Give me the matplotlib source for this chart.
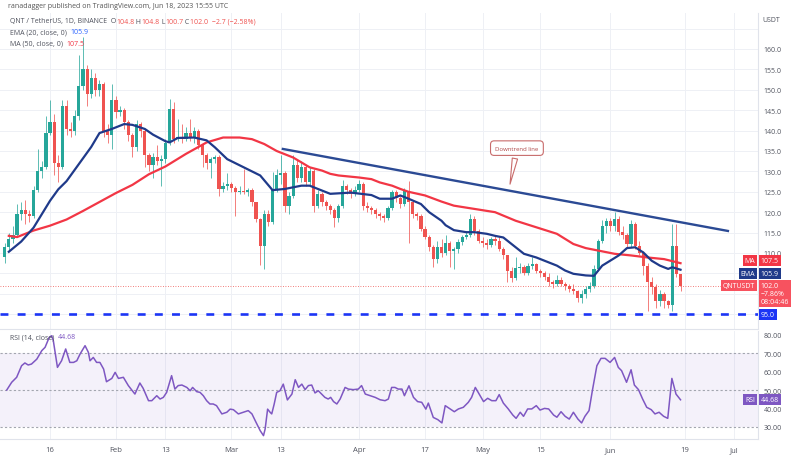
import matplotlib
matplotlib.use('Agg')
import numpy as np
import matplotlib.pyplot as plt

plt.rcParams['font.family'] = ['Open Sans', 'DejaVu Sans']

# daily candles, Jan 5 .. Jun 18 2023 (index 0 = Jan 5), open = previous close
first_open = 109.0
closes = [111.5, 113.5, 114.5, 119.5, 120.5, 119.5, 119.0, 125.5, 130.0, 131.0,
          139.5, 142.0, 132.0, 131.0, 146.0, 140.5, 140.0, 143.5, 151.0, 155.0,
          149.0, 153.0, 150.0, 151.5, 140.0, 139.0, 147.5, 144.5, 145.0, 142.0,
          139.0, 136.0, 141.5, 140.0, 134.0, 131.5, 133.5, 132.5, 133.0, 137.0,
          145.3, 138.0, 138.5, 138.0, 139.5, 138.5, 140.0, 136.5, 134.0, 132.0,
          133.0, 133.5, 125.7, 126.5, 127.0, 126.0, 125.0, 125.3, 125.0, 125.5,
          122.5, 118.3, 111.8, 119.6, 117.5, 125.7, 129.0, 129.5, 121.6, 124.0,
          131.5, 128.5, 131.0, 127.5, 130.0, 121.5, 124.5, 122.5, 121.5, 120.5,
          118.5, 121.5, 126.5, 125.5, 124.5, 125.5, 126.8, 121.6, 121.0, 120.5,
          119.5, 119.0, 118.5, 121.0, 124.9, 123.5, 122.0, 125.3, 122.5, 119.5,
          119.0, 116.0, 114.0, 111.5, 108.5, 111.5, 110.0, 112.5, 110.5, 111.0,
          112.6, 114.0, 114.5, 118.3, 115.5, 113.0, 112.5, 112.0, 113.5, 113.0,
          111.0, 109.5, 105.5, 103.8, 106.3, 106.5, 105.0, 106.8, 107.2, 105.5,
          105.0, 104.0, 102.8, 102.5, 103.5, 102.5, 101.8, 101.2, 100.8, 99.0,
          100.0, 101.2, 102.0, 106.0, 113.0, 116.7, 117.9, 116.5, 118.3, 115.2,
          114.5, 112.2, 117.1, 111.8, 110.1, 106.9, 102.8, 101.6, 98.3, 100.0,
          98.3, 97.2, 111.8, 104.8, 102.0]
highs = [112.5, 115.0, 116.5, 122.0, 122.5, 123.0, 120.5, 126.5, 135.5, 132.5,
         143.5, 147.5, 144.0, 134.0, 147.5, 147.5, 142.0, 145.0, 158.5, 163.0,
         156.0, 155.0, 154.0, 152.5, 152.0, 141.5, 151.5, 148.5, 146.0, 145.5,
         142.5, 139.5, 142.5, 142.0, 140.5, 134.5, 134.5, 136.5, 134.0, 138.0,
         147.7, 147.0, 142.8, 141.5, 141.0, 142.8, 140.8, 140.5, 137.0, 134.5,
         133.5, 134.0, 134.0, 127.5, 129.5, 127.5, 126.5, 126.5, 130.5, 126.0,
         126.0, 122.5, 118.5, 120.5, 120.5, 129.8, 130.5, 134.0, 130.0, 125.0,
         134.0, 133.0, 132.5, 131.5, 131.0, 130.5, 125.5, 125.0, 123.0, 122.0,
         121.0, 122.0, 128.0, 127.0, 126.0, 126.5, 128.0, 127.5, 122.5, 121.5,
         121.0, 120.0, 119.5, 121.5, 125.5, 125.5, 124.0, 126.0, 127.7, 122.5,
         120.0, 119.5, 116.5, 114.5, 112.0, 113.0, 113.5, 114.5, 113.0, 111.5,
         113.5, 114.5, 115.5, 119.5, 119.0, 116.0, 114.0, 113.5, 114.0, 114.5,
         113.8, 111.5, 109.5, 106.5, 109.0, 107.5, 107.0, 107.5, 109.0, 107.5,
         106.0, 105.5, 105.0, 103.5, 104.5, 104.0, 103.0, 102.5, 102.5, 101.0,
         101.0, 102.0, 103.0, 107.0, 113.5, 118.0, 118.5, 118.5, 120.0, 119.0,
         116.5, 115.0, 118.0, 117.5, 113.0, 110.5, 107.5, 104.0, 102.5, 101.0,
         100.5, 98.5, 117.2, 117.0, 104.8]
lows = [107.5, 110.5, 112.5, 114.0, 118.0, 117.0, 117.5, 118.5, 125.0, 128.5,
        130.5, 139.0, 129.0, 127.5, 130.5, 139.0, 138.5, 139.0, 142.5, 150.0,
        146.0, 148.0, 148.5, 148.5, 138.5, 137.0, 135.5, 143.0, 143.5, 140.5,
        137.5, 133.5, 135.0, 138.5, 131.0, 130.0, 128.5, 131.5, 126.5, 132.0,
        136.5, 137.0, 137.5, 137.0, 137.5, 137.5, 137.0, 135.5, 131.0, 130.5,
        128.5, 132.0, 124.0, 125.0, 125.5, 125.0, 119.0, 124.5, 124.5, 124.0,
        121.5, 117.5, 107.0, 106.1, 116.5, 117.0, 125.0, 127.0, 120.0, 119.5,
        123.5, 127.5, 127.5, 126.5, 126.5, 120.0, 121.0, 121.5, 120.5, 119.5,
        116.3, 117.5, 121.0, 124.5, 123.5, 124.0, 125.0, 120.5, 120.0, 119.5,
        118.5, 118.0, 117.5, 118.0, 120.5, 122.5, 121.0, 121.5, 112.5, 118.5,
        118.0, 115.5, 113.5, 110.5, 106.5, 107.5, 109.0, 109.5, 106.5, 106.0,
        110.0, 112.0, 113.5, 114.0, 114.5, 112.5, 111.5, 111.0, 111.5, 112.0,
        110.5, 108.5, 102.8, 103.0, 103.5, 105.0, 104.5, 104.5, 106.0, 105.0,
        104.0, 103.5, 102.0, 101.5, 102.0, 101.8, 101.0, 100.5, 100.0, 98.0,
        97.8, 99.0, 100.5, 101.5, 105.5, 112.5, 115.0, 115.5, 115.5, 114.5,
        113.5, 111.5, 111.5, 111.0, 109.5, 104.5, 95.9, 100.0, 96.5, 97.0,
        96.5, 96.5, 95.9, 104.0, 100.7]

# EMA(20) and MA(50) at candle positions
ema_x = [1, 4, 7, 11, 13, 15, 18, 21, 23, 26, 29, 31, 34, 36, 39, 40, 42, 46,
         49, 51, 54, 58, 62, 65, 68, 72, 74, 77, 79, 84, 89, 91, 94, 96, 98, 101,
         103, 106, 107, 109, 112, 114, 117, 119, 121, 124, 126, 129, 131, 134,
         136, 138, 141, 143, 145, 149, 151, 153, 155, 157, 159, 161, 162, 164]
ema_y = [110.3, 112.8, 116.2, 122.8, 125.6, 127.6, 131.8, 136.0, 139.4, 140.4,
         141.6, 141.4, 140.4, 139.0, 137.4, 137.1, 138.2, 138.3, 137.6, 135.9,
         133.0, 131.0, 129.0, 125.4, 125.7, 126.5, 126.5, 125.3, 124.5, 124.8,
         124.2, 123.3, 123.3, 124.1, 123.3, 122.0, 120.0, 117.9, 116.8, 115.6,
         115.1, 115.1, 114.7, 114.2, 113.8, 111.4, 109.8, 108.9, 108.1, 106.9,
         105.7, 104.9, 104.5, 104.4, 106.9, 109.4, 111.2, 111.4, 110.1, 108.1,
         106.9, 106.1, 106.5, 105.9]
ma_x = [1, 3, 7, 11, 15, 19, 23, 27, 31, 35, 39, 44, 49, 53, 57, 60, 63, 66,
        70, 74, 77, 79, 81, 86, 89, 91, 94, 96, 98, 102, 106, 109, 114, 119,
        124, 129, 134, 138, 141, 144, 148, 152, 156, 160, 164]
ma_y = [114.2, 113.9, 115.5, 116.7, 118.2, 120.3, 122.5, 124.7, 126.7, 129.3,
        131.2, 134.3, 137.1, 138.3, 138.3, 137.9, 136.7, 135.0, 133.4, 131.0,
        130.2, 129.4, 129.0, 128.5, 128.1, 127.3, 126.5, 125.7, 125.0, 124.1,
        122.6, 121.6, 120.8, 120.0, 117.9, 116.3, 114.7, 112.2, 111.2, 110.6,
        109.8, 109.4, 108.9, 108.5, 107.5]

# RSI(14)
rsi_x = [0.5, 1.7, 2.9, 4.1, 4.9, 5.7, 6.5, 7.8, 9.0, 9.8, 10.8, 11.4, 11.8,
         12.8, 13.8, 14.8, 15.8, 16.7, 17.5, 18.3, 19.5, 20.3, 20.7, 21.5, 22.3,
         23.1, 24.0, 24.7, 26.0, 26.8, 27.6, 28.8, 30.0, 31.6, 32.8, 33.6, 34.9,
         35.7, 36.9, 37.7, 38.5, 39.3, 40.5, 41.3, 42.1, 43.0, 44.2, 45.0, 45.6,
         46.6, 47.4, 48.2, 49.0, 49.8, 50.6, 51.4, 52.7, 53.9, 54.7, 55.5, 56.7,
         57.9, 59.1, 60.0, 60.8, 62.0, 62.8, 63.2, 63.8, 64.4, 64.8, 65.4, 66.0,
         66.8, 67.6, 68.6, 69.7, 70.5, 71.3, 72.1, 72.9, 73.7, 74.5, 75.3, 76.1,
         76.9, 77.7, 78.5, 79.1, 79.8, 80.6, 81.4, 82.6, 83.4, 84.6, 85.8, 86.6,
         87.5, 88.7, 89.9, 91.1, 92.3, 93.1, 93.9, 94.7, 95.5, 96.4, 97.0, 98.1,
         99.2, 100.2, 101.2, 102.2, 102.8, 104.0, 105.1, 106.1, 106.9, 108.1,
         109.1, 110.1, 111.3, 112.5, 113.3, 114.2, 115.0, 116.2, 117.2, 118.2,
         119.2, 120.0, 121.0, 122.2, 123.3, 124.1, 125.1, 125.9, 126.9, 127.9,
         129.0, 129.9, 131.0, 132.0, 133.2, 134.0, 135.0, 136.0, 137.0, 138.0,
         139.1, 140.0, 140.8, 141.8, 142.6, 143.7, 144.7, 145.7, 146.9, 148.0,
         148.9, 149.7, 150.9, 152.0, 152.8, 153.8, 154.8, 155.8, 156.9, 157.8,
         158.8, 159.9, 160.9, 161.9, 162.9, 164.0]
rsi_y = [50.0, 54.2, 56.9, 63.2, 64.7, 63.6, 64.1, 66.8, 71.4, 73.2, 78.6, 79.5,
         76.8, 62.3, 65.9, 72.3, 65.0, 65.0, 65.9, 69.6, 74.1, 70.5, 65.9, 67.7,
         65.0, 65.0, 61.4, 54.5, 56.3, 59.6, 56.3, 56.9, 52.4, 47.8, 53.8, 50.9,
         44.2, 44.2, 46.9, 45.1, 46.0, 48.7, 57.8, 50.5, 52.4, 52.7, 51.4, 49.6,
         51.4, 49.1, 48.7, 46.9, 44.2, 42.4, 42.4, 41.5, 37.0, 37.9, 39.6, 39.3,
         37.0, 37.9, 38.8, 37.0, 33.3, 27.9, 25.2, 28.8, 39.6, 37.9, 37.0, 42.4,
         48.7, 49.6, 53.2, 44.6, 47.8, 55.6, 51.4, 53.2, 50.2, 52.4, 52.7, 48.4,
         49.6, 47.8, 46.0, 45.1, 46.0, 43.7, 42.4, 45.1, 51.4, 50.5, 50.2, 50.5,
         52.4, 47.8, 46.9, 46.0, 44.7, 44.2, 45.1, 51.4, 51.4, 50.5, 50.5, 46.9,
         52.3, 46.0, 43.7, 43.3, 39.6, 42.9, 35.1, 33.9, 32.1, 41.5, 39.7, 38.2,
         39.7, 40.6, 43.3, 46.0, 51.4, 48.3, 43.7, 45.5, 44.2, 44.2, 47.5, 42.9,
         39.7, 36.4, 34.6, 37.9, 35.7, 39.7, 39.7, 41.5, 39.1, 40.0, 39.7, 36.4,
         35.2, 38.2, 35.7, 34.2, 37.9, 34.2, 32.1, 35.7, 38.8, 49.6, 63.2, 67.2,
         67.2, 65.0, 67.7, 62.3, 60.5, 54.2, 61.0, 52.7, 50.2, 45.1, 40.6, 39.3,
         37.0, 37.9, 35.7, 34.6, 56.3, 47.8, 44.68]

trend_x = [67.5, 175.5]
trend_y = [135.5, 115.4]
support = 95.0

tick_pos = [11, 27, 39, 55, 67, 86, 102, 116, 130, 147, 165, 177]
tick_lab = ['16', 'Feb', '13', 'Mar', '13', 'Apr', '17', 'May', '15', 'Jun', '19', 'Jul']

UP, DN = '#26a69a', '#ef5350'
EMA_C, MA_C, RSI_C = '#1f3a8a', '#f23645', '#7e57c2'
GRID = '#eef0f5'
TXT = '#50535e'

closes = np.array(closes)
opens = np.r_[first_open, closes[:-1]]
idx = np.arange(len(closes))

fig = plt.figure(figsize=(8, 4.6), dpi=100)
ax = fig.add_axes([0, 1 - 330 / 460, 758 / 800, 316 / 460])
ax2 = fig.add_axes([0, 1 - 440 / 460, 758 / 800, 108 / 460])

# ---- price panel
col = np.where(closes >= opens, UP, DN)
ax.vlines(idx, lows, highs, colors=col, lw=0.7, alpha=0.75, zorder=3)
ax.bar(idx, np.maximum(np.abs(closes - opens), 0.25), bottom=np.minimum(opens, closes),
       width=0.78, color=col, lw=0, zorder=4)
ax.plot(ma_x, ma_y, color=MA_C, lw=1.6, zorder=5)
ax.plot(ema_x, ema_y, color=EMA_C, lw=1.6, zorder=6)
ax.plot(trend_x, trend_y, color='#2b4a94', lw=1.7, zorder=6)
ax.axhline(support, color='#1c35f5', lw=1.9, ls=(0, (3, 3.5)), zorder=6)
ax.axhline(closes[-1], color=DN, lw=0.6, ls=(0, (1, 2)), zorder=2)

ax.annotate('Downtrend line', xy=(122.5, 126.2), xytext=(124.3, 135.7),
            ha='center', va='center', fontsize=4.3, color='#b04848', zorder=7,
            bbox=dict(boxstyle='round,pad=0.8,rounding_size=0.6', fc='white', ec='#c86b6b', lw=0.8),
            arrowprops=dict(arrowstyle='wedge,tail_width=0.9,shrink_factor=0.5',
                            fc='white', ec='#c86b6b', lw=0.8))

ax.set_xlim(-1.14, 182.8)
ax.set_ylim(91.37, 168.82)
ax.set_yticks(np.arange(95, 170, 5))
ax.set_yticklabels([f'{v:.1f}' if 110 <= v <= 160 else '' for v in np.arange(95, 170, 5)])
ax.yaxis.tick_right()
ax.tick_params(axis='y', length=0, labelsize=5, labelcolor=TXT, pad=4)
ax.set_xticks(tick_pos)
ax.tick_params(axis='x', length=0, labelbottom=False)
ax.grid(True, color=GRID, lw=0.7, zorder=0)
ax.set_axisbelow(True)
for s in ['top', 'left']:
    ax.spines[s].set_visible(False)
for s in ['bottom', 'right']:
    ax.spines[s].set_color('#e0e3eb')
    ax.spines[s].set_linewidth(0.8)

# ---- RSI panel
ax2.axhspan(30, 70, color=RSI_C, alpha=0.08, lw=0, zorder=1)
for lv in (70, 50, 30):
    ax2.axhline(lv, color='#a3a6af', lw=0.8, ls=(0, (2, 2)), zorder=2)
ax2.plot(rsi_x, rsi_y, color=RSI_C, lw=1.1, zorder=4)
ax2.set_xlim(ax.get_xlim())
ax2.set_ylim(23.37, 82.07)
ax2.set_yticks(np.arange(30, 90, 10))
ax2.set_yticklabels([f'{v:.2f}' for v in np.arange(30, 90, 10)])
ax2.yaxis.tick_right()
ax2.tick_params(axis='y', length=0, labelsize=5, labelcolor=TXT, pad=4)
ax2.set_xticks(tick_pos)
ax2.set_xticklabels(tick_lab)
ax2.tick_params(axis='x', length=0, labelsize=5.5, labelcolor=TXT, pad=5)
ax2.grid(True, axis='x', color=GRID, lw=0.7, zorder=0)
ax2.set_axisbelow(True)
for s in ['top', 'left']:
    ax2.spines[s].set_visible(False)
for s in ['bottom', 'right']:
    ax2.spines[s].set_color('#e0e3eb')
    ax2.spines[s].set_linewidth(0.8)

# ---- header and legends
fig.text(8 / 800, 1 - 7 / 460, 'ranadagger published on TradingView.com, Jun 18, 2023 15:55 UTC',
         fontsize=5, color='#555', va='center')

renderer = fig.canvas.get_renderer()


def put_segments(x, y, segments, size=5):
    for s, c in segments:
        t = fig.text(x, y, s, color=c, fontsize=size, va='center')
        x += t.get_window_extent(renderer=renderer).width / fig.bbox.width


put_segments(10 / 800, 1 - 22 / 460,
             [('QNT / TetherUS, 1D, BINANCE  O', TXT), ('104.8', DN), (' H', TXT), ('104.8', DN),
              (' L', TXT), ('100.7', DN), (' C', TXT), ('102.0  \u22122.7 (\u22122.58%)', DN)])
put_segments(10 / 800, 1 - 33 / 460, [('EMA (20, close, 0)  ', TXT), ('105.9', '#2962ff')])
put_segments(10 / 800, 1 - 44 / 460, [('MA (50, close, 0)  ', TXT), ('107.5', MA_C)])
put_segments(10 / 800, 1 - 338 / 460, [('RSI (14, close)  ', TXT), ('44.68', RSI_C)])

fig.text(762 / 800, 1 - 20 / 460, 'USDT', fontsize=5, color=TXT, va='center')

# ---- price tags on the right
ytr = ax.get_yaxis_transform()
ytr2 = ax2.get_yaxis_transform()


def tag(axis_tr, val, text, color, dy=0, label=None, va='center'):
    ax_ = ax if axis_tr is ytr else ax2
    ax_.annotate(text, xy=(1, val), xycoords=axis_tr, xytext=(2, dy), textcoords='offset points',
                 fontsize=5, color='white', ha='left', va=va, linespacing=1.15, zorder=10,
                 annotation_clip=False,
                 bbox=dict(boxstyle='square,pad=0.3', fc=color, ec='none'))
    if label:
        ax_.annotate(label, xy=(1, val), xycoords=axis_tr, xytext=(-2, dy), textcoords='offset points',
                     fontsize=5, color='white', ha='right', va=va if va == 'center' else 'top',
                     zorder=10, annotation_clip=False,
                     bbox=dict(boxstyle='square,pad=0.3', fc=color, ec='none'))


tag(ytr, ma_y[-1], f'{ma_y[-1]:.1f}', MA_C, dy=2, label='MA')
tag(ytr, ema_y[-1], f'{ema_y[-1]:.1f}', EMA_C, dy=-2.5, label='EMA')
tag(ytr, closes[-1], f'{closes[-1]:.1f}\n\u22127.86%\n08:04:46', '#f7525f', dy=2.5,
    label='QNTUSDT', va='top')
tag(ytr, support, f'{support:.1f}', '#1c35f5')
tag(ytr2, rsi_y[-1], f'{rsi_y[-1]:.2f}', RSI_C, label='RSI')

fig.savefig('out.png', dpi=100, facecolor='white')
